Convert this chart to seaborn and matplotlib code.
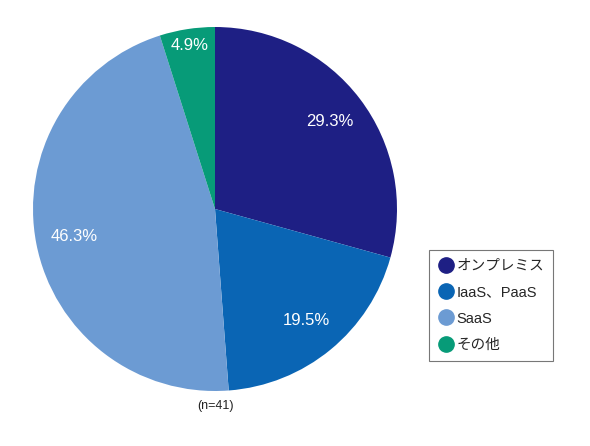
import matplotlib
matplotlib.use('Agg')
import matplotlib.pyplot as plt
import seaborn as sns
from matplotlib.lines import Line2D

sns.set_theme(style="white")
plt.rcParams['font.family'] = ['Liberation Sans', 'Noto Sans CJK JP', 'DejaVu Sans']

categories = ['オンプレミス', 'IaaS、PaaS', 'SaaS', 'その他']
shares = [29.3, 19.5, 46.3, 4.9]
colors = ['#1e1f84', '#0a65b4', '#6c9bd3', '#079b78']
note = '(n=41)'

fig = plt.figure(figsize=(5.9, 4.46), dpi=100)
ax = fig.add_axes([32 / 590, 55 / 446, 366 / 590, 364 / 446])
wedges, texts, autotexts = ax.pie(
    shares, colors=colors, startangle=90, counterclock=False,
    autopct='%.1f%%', pctdistance=0.79, radius=1.0,
    wedgeprops=dict(linewidth=0),
    textprops=dict(color='white', fontsize=12))
# the small slice label sits closer to the rim
x, y = autotexts[3].get_position()
autotexts[3].set_position((x * 0.91 / 0.79, y * 0.91 / 0.79))
ax.set_xlim(-1, 1)
ax.set_ylim(-1, 1)

ax.text(0, -1.05, note, ha='center', va='top', fontsize=9, color='#222222')

handles = [Line2D([0], [0], marker='o', linestyle='', markersize=11,
                  markerfacecolor=c, markeredgecolor=c) for c in colors]
leg = fig.legend(handles, categories, loc='upper left',
                 bbox_to_anchor=(429 / 590, 1 - 250 / 446),
                 frameon=True, fancybox=False, fontsize=10.5,
                 handletextpad=0.2, handlelength=1.1, labelspacing=0.85,
                 borderpad=0.6, borderaxespad=0)
leg.get_frame().set_edgecolor('#555555')
leg.get_frame().set_linewidth(0.8)

fig.savefig('out.png', dpi=100, facecolor='white')
